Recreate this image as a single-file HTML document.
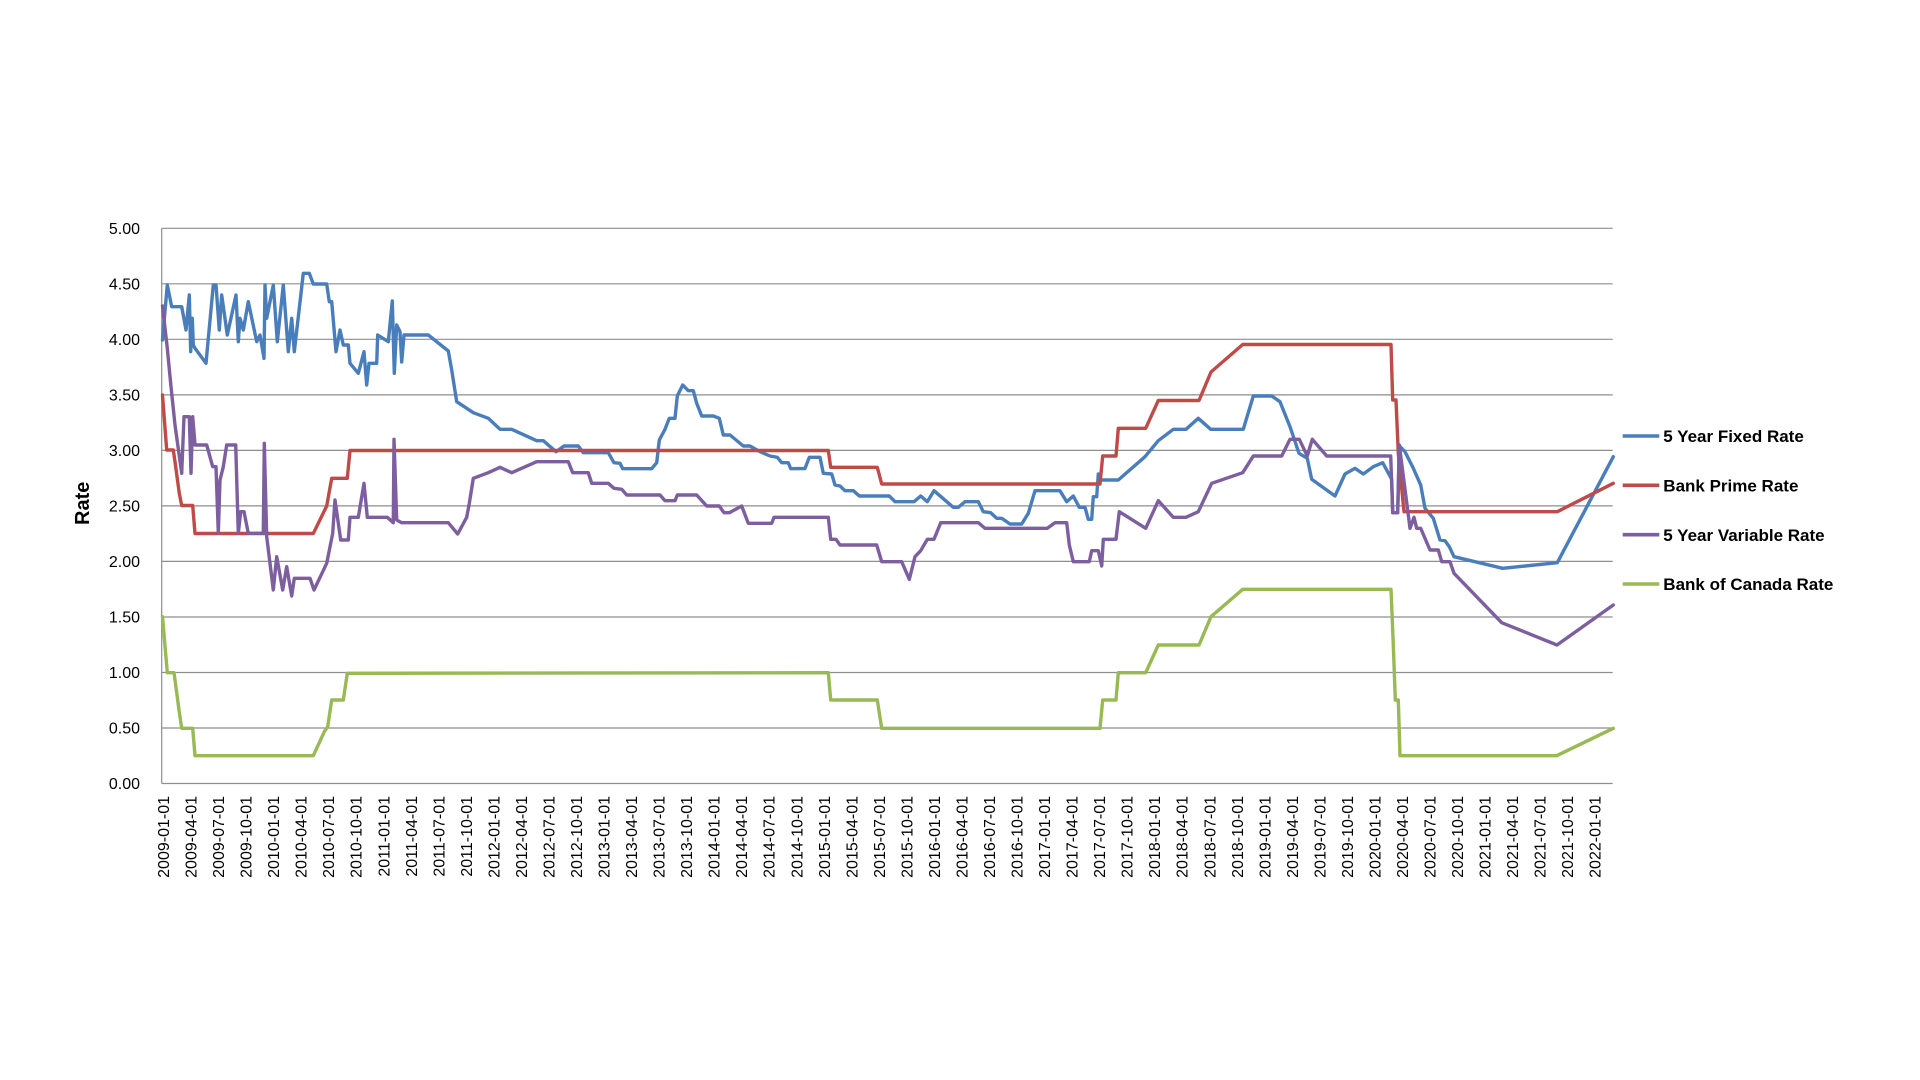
<!DOCTYPE html>
<html><head><meta charset="utf-8"><style>
html,body{margin:0;padding:0;background:#fff;}
svg{display:block;}
</style></head><body>
<svg width="1920" height="1080" viewBox="0 0 1920 1080" xmlns="http://www.w3.org/2000/svg">
<rect width="1920" height="1080" fill="#fff"/>
<g stroke="#8e8e8e" stroke-width="1.2" fill="none">
<line x1="161.7" y1="228.3" x2="1612.7" y2="228.3"/>
<line x1="161.7" y1="283.8" x2="1612.7" y2="283.8"/>
<line x1="161.7" y1="339.3" x2="1612.7" y2="339.3"/>
<line x1="161.7" y1="394.9" x2="1612.7" y2="394.9"/>
<line x1="161.7" y1="450.4" x2="1612.7" y2="450.4"/>
<line x1="161.7" y1="505.9" x2="1612.7" y2="505.9"/>
<line x1="161.7" y1="561.4" x2="1612.7" y2="561.4"/>
<line x1="161.7" y1="617.0" x2="1612.7" y2="617.0"/>
<line x1="161.7" y1="672.5" x2="1612.7" y2="672.5"/>
<line x1="161.7" y1="728.0" x2="1612.7" y2="728.0"/>
<line x1="161.7" y1="783.5" x2="1612.7" y2="783.5"/>
<line x1="161.7" y1="228.3" x2="161.7" y2="783.5"/>
</g>
<g font-family="Liberation Sans, Arial, sans-serif" font-size="16" fill="#000" text-anchor="end">
<text x="140" y="234">5.00</text>
<text x="140" y="289.5">4.50</text>
<text x="140" y="345">4.00</text>
<text x="140" y="400.6">3.50</text>
<text x="140" y="456.1">3.00</text>
<text x="140" y="511.6">2.50</text>
<text x="140" y="567.1">2.00</text>
<text x="140" y="622.7">1.50</text>
<text x="140" y="678.2">1.00</text>
<text x="140" y="733.7">0.50</text>
<text x="140" y="789.2">0.00</text>
</g>
<text transform="translate(88.9,503.3) rotate(-90)" font-family="Liberation Sans, Arial, sans-serif" font-size="20" font-weight="bold" text-anchor="middle" fill="#000">Rate</text>
<g font-family="Liberation Sans, Arial, sans-serif" font-size="16" fill="#000" text-anchor="end">
<text transform="translate(169.0,796) rotate(-90)">2009-01-01</text>
<text transform="translate(196.5,796) rotate(-90)">2009-04-01</text>
<text transform="translate(224.1,796) rotate(-90)">2009-07-01</text>
<text transform="translate(251.6,796) rotate(-90)">2009-10-01</text>
<text transform="translate(279.1,796) rotate(-90)">2010-01-01</text>
<text transform="translate(306.7,796) rotate(-90)">2010-04-01</text>
<text transform="translate(334.2,796) rotate(-90)">2010-07-01</text>
<text transform="translate(361.7,796) rotate(-90)">2010-10-01</text>
<text transform="translate(389.3,796) rotate(-90)">2011-01-01</text>
<text transform="translate(416.8,796) rotate(-90)">2011-04-01</text>
<text transform="translate(444.3,796) rotate(-90)">2011-07-01</text>
<text transform="translate(471.9,796) rotate(-90)">2011-10-01</text>
<text transform="translate(499.4,796) rotate(-90)">2012-01-01</text>
<text transform="translate(526.9,796) rotate(-90)">2012-04-01</text>
<text transform="translate(554.5,796) rotate(-90)">2012-07-01</text>
<text transform="translate(582.0,796) rotate(-90)">2012-10-01</text>
<text transform="translate(609.5,796) rotate(-90)">2013-01-01</text>
<text transform="translate(637.1,796) rotate(-90)">2013-04-01</text>
<text transform="translate(664.6,796) rotate(-90)">2013-07-01</text>
<text transform="translate(692.1,796) rotate(-90)">2013-10-01</text>
<text transform="translate(719.7,796) rotate(-90)">2014-01-01</text>
<text transform="translate(747.2,796) rotate(-90)">2014-04-01</text>
<text transform="translate(774.7,796) rotate(-90)">2014-07-01</text>
<text transform="translate(802.3,796) rotate(-90)">2014-10-01</text>
<text transform="translate(829.8,796) rotate(-90)">2015-01-01</text>
<text transform="translate(857.3,796) rotate(-90)">2015-04-01</text>
<text transform="translate(884.9,796) rotate(-90)">2015-07-01</text>
<text transform="translate(912.4,796) rotate(-90)">2015-10-01</text>
<text transform="translate(939.9,796) rotate(-90)">2016-01-01</text>
<text transform="translate(967.5,796) rotate(-90)">2016-04-01</text>
<text transform="translate(995.0,796) rotate(-90)">2016-07-01</text>
<text transform="translate(1022.5,796) rotate(-90)">2016-10-01</text>
<text transform="translate(1050.1,796) rotate(-90)">2017-01-01</text>
<text transform="translate(1077.6,796) rotate(-90)">2017-04-01</text>
<text transform="translate(1105.1,796) rotate(-90)">2017-07-01</text>
<text transform="translate(1132.7,796) rotate(-90)">2017-10-01</text>
<text transform="translate(1160.2,796) rotate(-90)">2018-01-01</text>
<text transform="translate(1187.7,796) rotate(-90)">2018-04-01</text>
<text transform="translate(1215.3,796) rotate(-90)">2018-07-01</text>
<text transform="translate(1242.8,796) rotate(-90)">2018-10-01</text>
<text transform="translate(1270.3,796) rotate(-90)">2019-01-01</text>
<text transform="translate(1297.9,796) rotate(-90)">2019-04-01</text>
<text transform="translate(1325.4,796) rotate(-90)">2019-07-01</text>
<text transform="translate(1352.9,796) rotate(-90)">2019-10-01</text>
<text transform="translate(1380.5,796) rotate(-90)">2020-01-01</text>
<text transform="translate(1408.0,796) rotate(-90)">2020-04-01</text>
<text transform="translate(1435.5,796) rotate(-90)">2020-07-01</text>
<text transform="translate(1463.1,796) rotate(-90)">2020-10-01</text>
<text transform="translate(1490.6,796) rotate(-90)">2021-01-01</text>
<text transform="translate(1518.1,796) rotate(-90)">2021-04-01</text>
<text transform="translate(1545.7,796) rotate(-90)">2021-07-01</text>
<text transform="translate(1573.2,796) rotate(-90)">2021-10-01</text>
<text transform="translate(1600.7,796) rotate(-90)">2022-01-01</text>
</g>
<g fill="none" stroke-width="3.4" stroke-linejoin="round" stroke-linecap="round">
<polyline stroke="#4A7EBB" points="162.5,340 167.3,285 171.7,306.7 181.7,306.7 186,330 189.3,295 190.7,351.7 192.3,318.3 193.3,345 195,348.3 206,363.3 213.3,285 216,285 219.3,330 221.7,295 227.3,335 236,295 238.3,341.7 240,318.3 243.3,330 248.3,301.7 256.7,341.7 260,335 264,358.3 265,285 266.7,318.3 273.3,285 277.3,341.7 283.3,285 288.3,351.7 291.7,318.3 294.3,351.7 303.3,273.3 309.3,273.3 313.3,284 326.7,284 329.3,301.7 331.7,301.7 336,351.7 340,330 343.3,345 348.3,345 350,363.3 358.3,373.3 364,351.7 366.7,385 369,363.3 376.7,363.3 377.7,335 388.3,341.7 392.3,301 394.3,373.3 396.7,325 400,331.7 401.7,362 404,335 428.3,335 448.3,351 451.7,370 456.7,401.7 473.3,412.7 488.3,418.3 500,429.3 511.7,429.3 536.7,440.7 543.3,440.7 556,451.7 564,446 578.3,446 583.3,452.7 608.3,452.7 614,462.7 620,463.3 622.7,468.7 651.7,468.7 656.7,462.7 659.3,440 665,429.3 669.3,418.3 675,418.3 677.3,396 682.7,385 688.3,390.7 693.3,390.7 696.7,403.3 701.7,416 713.3,416 719.3,418.3 723.3,435 730,435 743.3,446 750,446 760,451.7 770,456 777.3,457.3 781.7,462.7 788.3,462.7 790.7,468.7 805,468.5 809.3,457.3 820,457.3 823.3,473.3 831.7,474 835,485 840,486 845,490.7 853.3,490.7 859.3,496 889.3,496 895,501.7 914,501.7 920.7,496 927.3,501.7 934,490.7 953.3,507.3 958.3,507.3 965,501.7 978.3,501.7 983.3,511.7 990.7,512.7 996.7,518.3 1001.7,518.3 1010,524 1021.7,524 1028.3,513.3 1035,490.7 1060,490.7 1066.7,501.7 1073.3,496 1079.3,507.3 1085,507.3 1088.3,519.3 1091.7,519.3 1093.3,496.7 1096.7,496.7 1098.3,474 1100,480 1118.3,480 1145,456.7 1158.3,440.7 1173.3,429.3 1186,429.3 1198.3,418.3 1210.7,429.3 1243.3,429.3 1253.3,396 1271.7,396 1280,401.7 1290,426.7 1299,453.3 1307.3,458.3 1311.7,479.3 1335,496 1345,474 1355,468.3 1363.3,474 1373.3,466.7 1382.7,462.7 1391.7,479.3 1392.7,512.7 1397.7,512.7 1399.3,446 1405,451.7 1413.3,468.3 1420.7,485 1425,508.3 1433.3,518.3 1440,540 1445,540.7 1449.3,546.7 1454,556.7 1502.7,568.3 1557.3,562.7 1613.3,456.7"/>
<polyline stroke="#BE4B48" points="162.5,395 166.7,450 173.3,450 175,461.7 179.3,493.3 181.7,505.5 192.7,505.5 195,533.5 313.3,533.5 326.7,506 331.7,478.3 347.3,478.3 350,450.5 828.3,450.5 830.7,467.3 877.3,467.3 881.7,484 1100,484 1102.7,456 1116,456 1118.3,428.3 1145.7,428.3 1158.3,400.5 1199,400.5 1211,372 1242.7,344.5 1391,344.5 1392.7,400 1396,400 1398.3,453.3 1404,511.7 1557.3,511.7 1613.3,483.3"/>
<polyline stroke="#7D5FA0" points="162.5,306 167.3,348.3 171,386.7 175,425 181.7,473.3 184,416.7 189.3,416.7 191,473.3 192.7,416.7 195,445 206.7,445 212.7,466.7 216,466.7 218.3,533.3 220,480 223.3,466.7 226.7,445 235.7,445 238.3,533.3 240.7,511.7 244,511.7 248.3,533.3 263.3,533.3 264.3,443.3 266.7,536.7 273.3,590 276.7,556.7 282.7,590 286.7,566.7 291.7,596 294.3,578.3 310,578.3 314,590 326.7,563.3 332.7,533.3 335,500 340.7,540 348.3,540 350,517.3 358.3,517.3 364,483.3 367.3,517.3 387.3,517.3 393.3,522.7 394,439.3 396.7,520 401.7,522.7 448.3,522.7 457.7,534 466.7,517.3 469.3,503.3 473.3,478.3 488.3,472.7 500,467.3 511.7,472.7 536.7,461.7 568.3,461.7 572.7,472.7 588.3,472.7 591.7,483.3 608.3,483.3 614,488.3 621.7,489.3 626.7,495 660,495 665,500.7 675,500.7 677.3,495 696.7,495 706.7,506 719.3,506 724,512.7 729.3,512.7 741.7,506 748.3,523.3 771.7,523.3 774,517.3 828.3,517.3 830.7,539.3 836,539.3 840,545 876.7,545 881.7,561.7 901.7,561.7 909.3,579.3 915,556.7 920.7,550.7 927.3,539.3 934,539.3 940.7,522.7 978.3,522.7 985,528.3 1047.3,528.3 1055,522.7 1066.7,522.7 1069.3,545 1073.3,561.7 1089.3,561.7 1091.7,550.7 1098.3,550.7 1101.7,566 1103.3,539.3 1116,539.3 1119.3,511.7 1145.7,528.3 1158.3,500.7 1173.3,517.3 1186,517.3 1198.3,511.7 1211.7,483.3 1242.7,472.7 1253.3,456 1281.7,456 1290,439.3 1299.3,439.3 1307.3,456 1312.3,439.3 1326.7,456 1390.7,456 1392.7,512.7 1397.7,512.7 1399.3,445 1410,528.3 1414,517.3 1416.7,528.3 1420.7,528.3 1430,550 1438.3,550 1441.7,561.7 1450,561.7 1454,573.3 1501.7,622.7 1557,645 1613.3,605"/>
<polyline stroke="#98B954" points="162.5,616.7 167.3,672.7 174,672.7 175,680 179,710 181.7,728.3 192.7,728.3 195,755.7 313.3,755.7 324.3,731.7 327.7,726.7 331.7,700 343.3,700 347.3,673.3 828.3,672.7 830.7,700 877.3,700 881.7,728.3 1100,728.3 1102.7,700 1116,700 1118.3,672.7 1145.7,672.7 1158.3,645 1199,645 1211,616.7 1242.7,589.3 1391,589.3 1393.3,645 1395.3,700 1398.3,700 1400,755.7 1556.7,755.7 1613.3,728.3"/>
</g>
<g stroke-width="3.6">
<line x1="1622.7" y1="436" x2="1659.3" y2="436" stroke="#4A7EBB"/>
<line x1="1622.7" y1="485.3" x2="1659.3" y2="485.3" stroke="#BE4B48"/>
<line x1="1622.7" y1="534.7" x2="1659.3" y2="534.7" stroke="#7D5FA0"/>
<line x1="1622.7" y1="584" x2="1659.3" y2="584" stroke="#98B954"/>
</g>
<g font-family="Liberation Sans, Arial, sans-serif" font-size="17" font-weight="bold" fill="#000">
<text x="1663.3" y="442.2">5 Year Fixed Rate</text>
<text x="1663.3" y="491.5">Bank Prime Rate</text>
<text x="1663.3" y="540.9">5 Year Variable Rate</text>
<text x="1663.3" y="590.2">Bank of Canada Rate</text>
</g>
</svg>
</body></html>
